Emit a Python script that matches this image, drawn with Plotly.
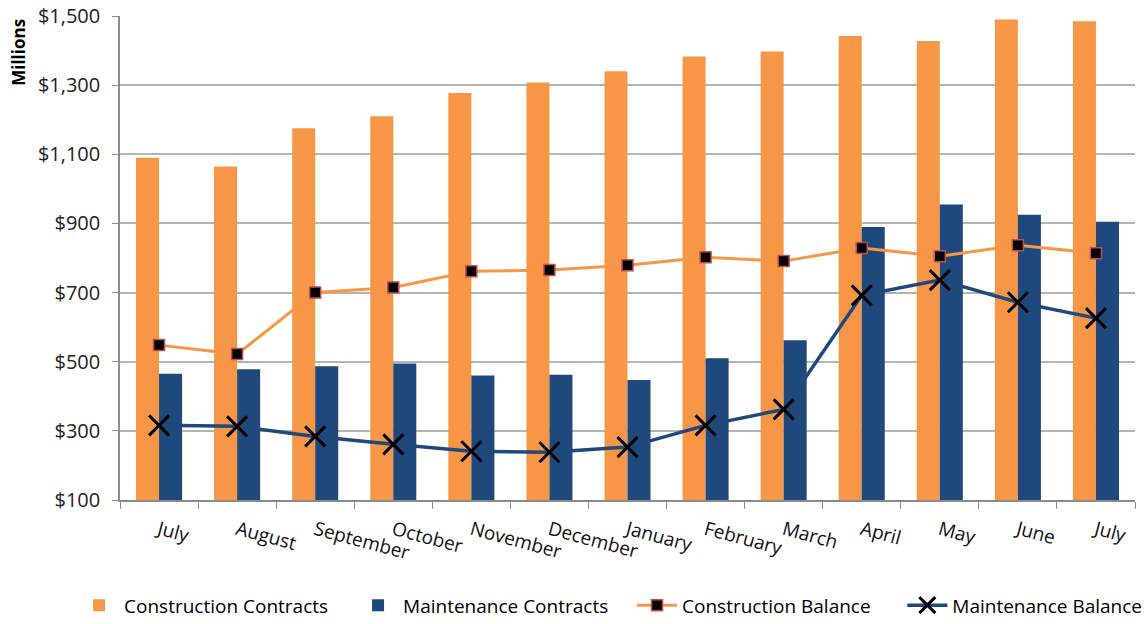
import plotly.graph_objects as go

months = ["July", "August", "September", "October", "November", "December",
          "January", "February", "March", "April", "May", "June", "July"]
construction_contracts = [1090, 1065, 1175, 1210, 1277, 1308, 1340, 1383, 1397, 1442, 1428, 1490, 1485]
maintenance_contracts = [465, 478, 487, 495, 460, 462, 447, 510, 562, 890, 955, 925, 905]
construction_balance = [548, 522, 700, 715, 762, 765, 779, 802, 791, 829, 805, 837, 814]
maintenance_balance = [316, 313, 284, 261, 241, 238, 253, 316, 362, 692, 736, 672, 626]

x = list(range(len(months)))

ORANGE = "#F79646"
BLUE = "#1F497D"
FONT = "Open Sans"

fig = go.Figure()
fig.add_trace(go.Bar(x=x, y=construction_contracts, name="Construction Contracts",
                     marker=dict(color=ORANGE, line=dict(width=0)), legend="legend"))
fig.add_trace(go.Bar(x=x, y=maintenance_contracts, name="Maintenance Contracts",
                     marker=dict(color=BLUE, line=dict(width=0)), legend="legend"))
fig.add_trace(go.Scatter(x=x, y=construction_balance, name="Construction Balance",
                         mode="lines+markers", legend="legend",
                         line=dict(color=ORANGE, width=3),
                         marker=dict(symbol="square", size=11, color="black",
                                     line=dict(color="#C0504D", width=1.5))))
fig.add_trace(go.Scatter(x=x, y=maintenance_balance, name="Maintenance Balance",
                         mode="lines+markers", legend="legend2",
                         line=dict(color=BLUE, width=3.5),
                         marker=dict(symbol="x-thin", size=20, color="black",
                                     line=dict(color="black", width=3))))

legend_common = dict(orientation="h", xref="container", yref="container",
                     y=0.03, xanchor="left", yanchor="middle",
                     font=dict(size=19, family=FONT, color="#000000"),
                     itemwidth=40, traceorder="normal", bgcolor="rgba(0,0,0,0)")

fig.update_layout(
    width=1148, height=624,
    margin=dict(l=120, r=13, t=16, b=124, autoexpand=False),
    paper_bgcolor="white", plot_bgcolor="white",
    barmode="group", bargap=0.41, bargroupgap=0,
    font=dict(family=FONT, color="#000000"),
    showlegend=True,
    legend=dict(x=0.0645, entrywidth=224, entrywidthmode="pixels", **legend_common),
    legend2=dict(x=0.786, **legend_common),
    annotations=[dict(text="<b>Millions</b>", xref="paper", yref="paper",
                      x=-0.1, y=0.925, textangle=-90, showarrow=False,
                      font=dict(size=17, family=FONT, color="#000000"),
                      xanchor="center", yanchor="middle")],
)

fig.update_yaxes(range=[100, 1500], dtick=200, tick0=100, tickprefix="$", tickformat=",",
                 showgrid=True, gridcolor="#B4B4B4", gridwidth=1.5,
                 showline=True, linecolor="#8C8C8C", linewidth=1.5,
                 ticks="outside", ticklen=6, tickcolor="#8C8C8C",
                 ticklabelstandoff=8, automargin=False,
                 tickfont=dict(size=20, family=FONT, color="#222222"),
                 zeroline=False)

fig.update_xaxes(range=[-0.5, len(months) - 0.5], tickmode="array", tickvals=x, ticktext=months,
                 tickangle=15, ticks="", showgrid=False, zeroline=False,
                 showline=True, linecolor="#8C8C8C", linewidth=1.5,
                 ticklabelstandoff=10, automargin=False,
                 tickfont=dict(size=19, family=FONT, color="#111111"),
                 minor=dict(tick0=-0.5, dtick=1, ticks="outside", ticklen=7,
                            tickcolor="#8C8C8C", showgrid=False))

fig.write_html("out.html")
